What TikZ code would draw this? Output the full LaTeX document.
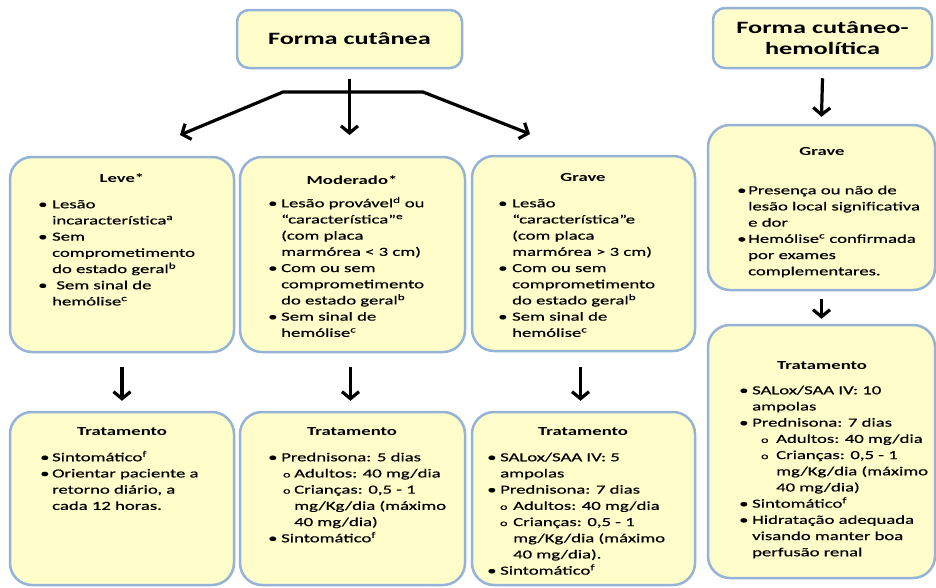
\documentclass[tikz,border=0pt]{standalone}
\usepackage{fontspec}
\setmainfont{Carlito}[FakeStretch=1.52]
\newfontfamily\bodyfam{Carlito}[FakeStretch=1.52, FakeBold=0.5]
\usetikzlibrary{arrows.meta,calc}
\definecolor{boxfill}{HTML}{FFFECB}
\definecolor{boxline}{HTML}{95B3D7}
\newlength\bw
\newcommand\setbw[1]{\global\bw=#1\relax}
\newcommand\itm{\makebox[\bw][l]{•}}
\newcommand\ind{\hspace*{\bw}}
\newcommand\supr[1]{\textsuperscript{#1}}
\newcommand\subitm[2]{\hspace*{\dimexpr\bw+#1\relax}\makebox[#2][l]{\fontsize{9}{9}\selectfont o}}
\newcommand\subind[1]{\hspace*{\dimexpr\bw+#1\relax}}
\newcommand\bodyfont{\bodyfam\fontsize{12.3}{16.2}\selectfont}
\newcommand\headfont{\bfseries\fontsize{12.3}{16.2}\selectfont}
\newcommand\topfont{\bfseries\fontsize{17.3}{21.5}\selectfont}
\begin{document}
\begin{tikzpicture}[x=1pt,y=-1pt,
  panel/.style={draw=boxline, fill=boxfill, line width=2.5pt, rounded corners=22pt, inner sep=0pt},
  topbox/.style={panel, rounded corners=12pt, font=\topfont, align=center},
  head/.style={font=\headfont, inner sep=0pt, anchor=center},
  body/.style={font=\bodyfont, inner sep=0pt, anchor=north west, align=left},
  tip/.tip={Straight Barb[length=7pt,width=17pt]},
  conn/.style={line width=3.2pt, -tip}]
\fill[white] (0,0) rectangle (936,587);
\useasboundingbox (0,0) rectangle (936,587);

% top level
\node[topbox, minimum width=225pt, minimum height=58pt] (fc) at (349.5,39) {Forma cutânea};
\node[topbox, minimum width=219pt, minimum height=60pt] (fch) at (822.5,38) {Forma cutâneo-\\hemolítica};

% severity panels
\node[panel, minimum width=224pt, minimum height=195pt] (leve) at (122,254.5) {};
\node[panel, minimum width=225pt, minimum height=195pt] (mod) at (352.5,254.5) {};
\node[panel, minimum width=223pt, minimum height=195pt] (grv) at (583.5,253.5) {};
\node[panel, minimum width=227pt, minimum height=165pt] (rgrv) at (821.5,207.5) {};

% treatment panels
\node[panel, minimum width=224pt, minimum height=173pt] (t1) at (122,498.5) {};
\node[panel, minimum width=225pt, minimum height=173pt] (t2) at (352.5,498.5) {};
\node[panel, minimum width=223pt, minimum height=173pt] (t3) at (583.5,498.5) {};
\node[panel, minimum width=227pt, minimum height=253pt] (t4) at (821.5,451.5) {};

% branching arrows
\coordinate (bl) at (283,92);
\coordinate (br) at (423,92);
\coordinate (al) at (180,135);
\coordinate (ar) at (530,134);
\coordinate (ac) at (349.5,135);
\draw[conn] ($(fc.south)+(0,10)$) -- (ac);
\draw[conn, tip-tip, line join=miter] (al) -- (bl) -- (br) -- (ar);

\draw[conn] ($(leve.south)+(0,14)$) -- ($(t1.north)+(0,-10)$);
\draw[conn] ($(mod.south)+(-2,14)$) -- ($(t2.north)+(-2,-10)$);
\draw[conn] ($(grv.south)+(-3,15)$) -- ($(t3.north)+(-3,-10)$);
\draw[conn] ($(fch.south)+(0,9)$) -- ($(rgrv.north)+(0,-7)$);
\draw[conn] ($(rgrv.south)+(0,8)$) -- ($(t4.north)+(0,-5)$);

% headings
\node[head] (hleve) at (122,178) {Leve*};
\node[head] (hmod) at (352,180) {Moderado*};
\node[head] (hgrv) at (583,178) {Grave};
\node[head] (hrgrv) at (822,152) {Grave};
\node[head] (ht1) at (122,432) {Tratamento};
\node[head] (ht2) at (352,432) {Tratamento};
\node[head] (ht3) at (583,432) {Tratamento};
\node[head] (ht4) at (822,366) {Tratamento};

% panel texts
\node[body] (bleve) at (38,196.7) {\setbw{14pt}\strut
\itm Lesão\\ \ind incaracterística\supr{a}\\ \itm Sem\\ \ind comprometimento\\
\ind do estado geral\supr{b}\\ \itm\ Sem sinal de\\ \ind hemólise\supr{c}};

\node[body] (bmod) at (268,195.7) {\setbw{13pt}\strut
\itm Lesão provável\supr{d} ou\\ \ind “característica”\supr{e}\\ \ind (com placa\\
\ind marmórea < 3 cm)\\ \itm Com ou sem\\ \ind comprometimento\\
\ind do estado geral\supr{b}\\ \itm Sem sinal de\\ \ind hemólise\supr{c}};

\node[body] (bgrv) at (498,195.7) {\setbw{14pt}\strut
\itm Lesão\\ \ind “característica”e\\ \ind (com placa\\
\ind marmórea > 3 cm)\\ \itm Com ou sem\\ \ind comprometimento\\
\ind do estado geral\supr{b}\\ \itm Sem sinal de\\ \ind hemólise\supr{c}};

\node[body] (brgrv) at (737,182.7) {\setbw{11pt}\strut
\itm Presença ou não de\\ \ind lesão local significativa\\ \ind e dor\\
\itm Hemólise\supr{c} confirmada\\ \ind por exames\\ \ind complementares.};

\node[body] (bt1) at (40,449.7) {\setbw{12pt}\strut
\itm Sintomático\supr{f}\\ \itm Orientar paciente a\\ \ind retorno diário, a\\ \ind cada 12 horas.};

\node[body] (bt2) at (268,449.7) {\setbw{13pt}\strut
\itm Prednisona: 5 dias\\ \subitm{2pt}{11pt}Adultos: 40 mg/dia\\
\subitm{2pt}{11pt}Crianças: 0,5 - 1\\ \subind{13pt}mg/Kg/dia (máximo\\
\subind{13pt}40 mg/dia)\\ \itm Sintomático\supr{f}};

\node[body] (bt3) at (487,449.7) {\setbw{13pt}\strut
\itm SALox/SAA IV: 5\\ \ind ampolas\\ \itm Prednisona: 7 dias\\
\subitm{0pt}{13pt}Adultos: 40 mg/dia\\ \subitm{0pt}{13pt}Crianças: 0,5 - 1\\
\subind{13pt}mg/Kg/dia (máximo\\ \subind{13pt}40 mg/dia).\\ \itm Sintomático\supr{f}};

\node[body] (bt4) at (739,382.7) {\setbw{13pt}\strut
\itm SALox/SAA IV: 10\\ \ind ampolas\\ \itm Prednisona: 7 dias\\
\subitm{9pt}{15pt}Adultos: 40 mg/dia\\ \subitm{9pt}{15pt}Crianças: 0,5 - 1\\
\subind{24pt}mg/Kg/dia (máximo\\ \subind{24pt}40 mg/dia)\\ \itm Sintomático\supr{f}\\
\itm Hidratação adequada\\ \ind visando manter boa\\ \ind perfusão renal};
\end{tikzpicture}
\end{document}
